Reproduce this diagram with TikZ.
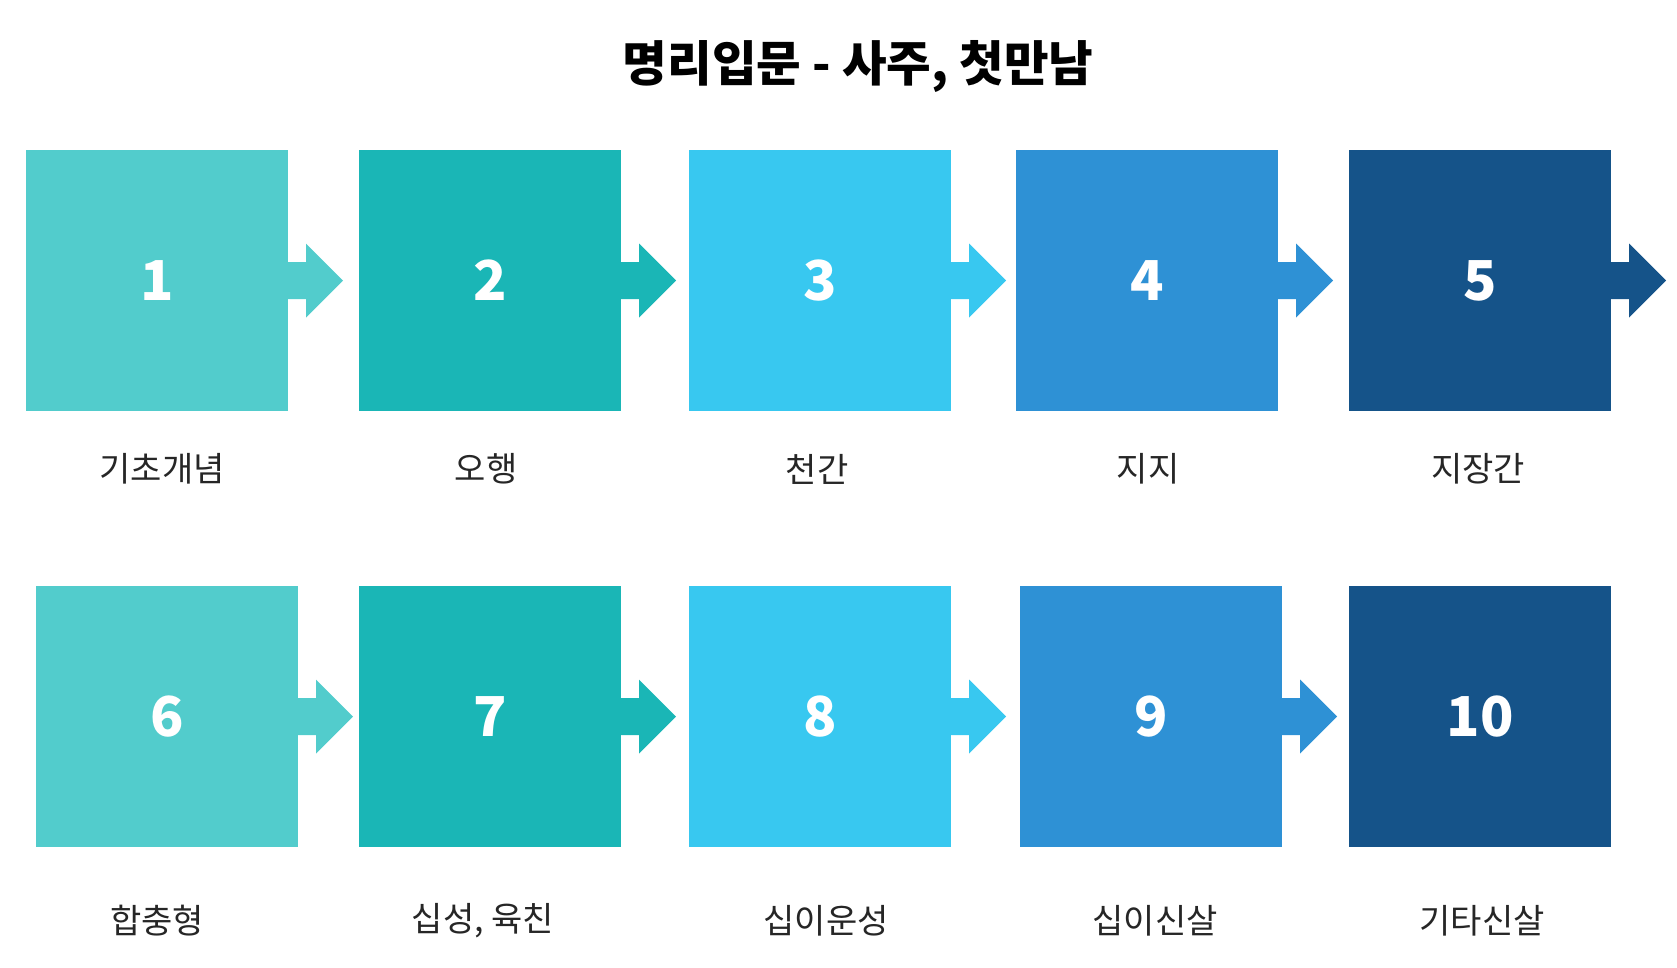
\documentclass[tikz,border=0pt]{standalone}
\usepackage{fontspec}
\setmainfont{Noto Sans CJK KR}
\usetikzlibrary{positioning}

\definecolor{stepA}{HTML}{52CCCC}
\definecolor{stepB}{HTML}{1AB6B6}
\definecolor{stepC}{HTML}{38C8F0}
\definecolor{stepD}{HTML}{2E91D5}
\definecolor{stepE}{HTML}{155389}

\begin{document}
\begin{tikzpicture}
		[x=1pt,y=-1pt,every node/.style={inner sep=0pt,outer sep=0pt},
		box/.style={anchor=north west,minimum width=262pt,minimum height=261pt,
			text=white,font=\fontsize{55}{55}\selectfont\bfseries},
		caption/.style={font=\fontsize{34}{34}\selectfont,text=black!85}]
		\useasboundingbox (0,0) rectangle (1677,967);
		\node (title) at (858,66) {\fontsize{48.5}{48.5}\selectfont\bfseries 명리입문 - 사주, 첫만남};
		%% row one
		\foreach \n/\x/\col/\lx/\txt in {1/26/stepA/162/기초개념,2/359/stepB/486/오행,
			3/689/stepC/817/천간,4/1016/stepD/1148/지지,5/1349/stepE/1478/지장간}
		{
			\node[box,fill=\col] (b\n) at (\x,150) {\n};
			\node[caption] (l\n) at (\lx,469) {\txt};
			\fill[\col] (b\n.east) ++(0,-18.5) -- ++(18,0) -- ++(0,-18.5) -- ++(37,37)
				-- ++(-37,37) -- ++(0,-18.5) -- ++(-18,0) -- cycle;
		}
		%% row two
		\foreach \n/\x/\col/\lx/\txt in {6/36/stepA/157/합충형,7/359/stepB/483/{십성, 육친},
			8/689/stepC/826/십이운성,9/1020/stepD/1155/십이신살,10/1349/stepE/1482/기타신살}
		{
			\node[box,fill=\col] (b\n) at (\x,586) {\n};
			\node[caption] (l\n) at (\lx,921) {\txt};
		}
		\foreach \n/\col in {6/stepA,7/stepB,8/stepC,9/stepD}
		{
			\fill[\col] (b\n.east) ++(0,-18.5) -- ++(18,0) -- ++(0,-18.5) -- ++(37,37)
				-- ++(-37,37) -- ++(0,-18.5) -- ++(-18,0) -- cycle;
		}
\end{tikzpicture}
\end{document}
